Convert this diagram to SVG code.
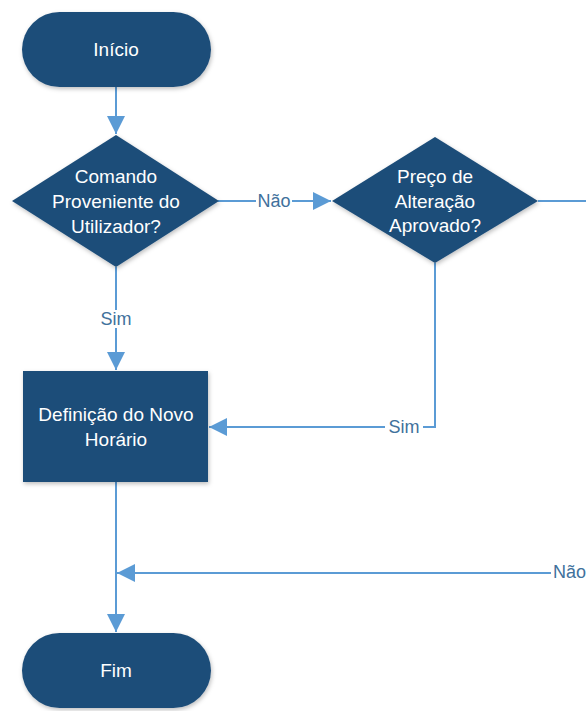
<svg xmlns="http://www.w3.org/2000/svg" width="586" height="711" viewBox="0 0 586 711">
  <style>
    .node { fill: #1F4E79; filter: url(#shadow); }
    .ntext { fill: #FFFFFF; font-family: "Liberation Sans", Arial, sans-serif; font-size: 19px; text-anchor: middle; }
    .edge { fill: none; stroke: #5B9BD5; stroke-width: 2; }
    .elabel { fill: #41719C; font-family: "Liberation Sans", Arial, sans-serif; font-size: 18px; text-anchor: middle; }
    .lbg { fill: #FFFFFF; }
  </style>
  <defs>
    <filter id="shadow" x="-10%" y="-10%" width="125%" height="130%">
      <feDropShadow dx="1" dy="2" stdDeviation="2" flood-color="#000000" flood-opacity="0.25"/>
    </filter>
    <marker id="arrowBig" viewBox="0 0 10 10" refX="10" refY="5" markerWidth="9" markerHeight="9" orient="auto">
      <path d="M0,0 L10,5 L0,10 Z" fill="#5B9BD5"/>
    </marker>
  </defs>

  <!-- connectors -->
  <g id="connectors">
    <path class="edge" d="M116,87 L116,134" marker-end="url(#arrowBig)"/>
    <path class="edge" d="M218,201 L331,201" marker-end="url(#arrowBig)"/>
    <path class="edge" d="M538,201 L586,201"/>
    <path class="edge" d="M116,267 L116,370" marker-end="url(#arrowBig)"/>
    <path class="edge" d="M435,263 L435,427 L209,427" marker-end="url(#arrowBig)"/>
    <path class="edge" d="M116,482 L116,632" marker-end="url(#arrowBig)"/>
    <path class="edge" d="M586,573 L117,573" marker-end="url(#arrowBig)"/>

    <rect class="lbg" x="256" y="192" width="36" height="18"/>
    <text class="elabel" x="274" y="207">Não</text>
    <rect class="lbg" x="97" y="310" width="38" height="18"/>
    <text class="elabel" x="116" y="325">Sim</text>
    <rect class="lbg" x="385" y="418" width="38" height="18"/>
    <text class="elabel" x="404" y="433">Sim</text>
    <rect class="lbg" x="551" y="563" width="35" height="18"/>
    <text class="elabel" x="553" y="578" style="text-anchor:start">Não</text>
  </g>

  <g id="inicio">
    <rect class="node" x="22" y="12" width="189" height="75" rx="37.5" ry="37.5"/>
    <text class="ntext" x="116" y="56">Início</text>
  </g>

  <g id="comando">
    <polygon class="node" points="116,135 219,201 116,267 12,201"/>
    <text class="ntext" x="116" y="183">Comando</text>
    <text class="ntext" x="116" y="208">Proveniente do</text>
    <text class="ntext" x="116" y="233">Utilizador?</text>
  </g>

  <g id="preco">
    <polygon class="node" points="435,137 538,201 435,263 332,201"/>
    <text class="ntext" x="435" y="183">Preço de</text>
    <text class="ntext" x="435" y="208">Alteração</text>
    <text class="ntext" x="435" y="232">Aprovado?</text>
  </g>

  <g id="definicao">
    <rect class="node" x="23" y="371" width="185" height="111"/>
    <text class="ntext" x="116" y="421">Definição do Novo</text>
    <text class="ntext" x="116" y="446">Horário</text>
  </g>

  <g id="fim">
    <rect class="node" x="22" y="633" width="189" height="75" rx="37.5" ry="37.5"/>
    <text class="ntext" x="116" y="677">Fim</text>
  </g>
</svg>
